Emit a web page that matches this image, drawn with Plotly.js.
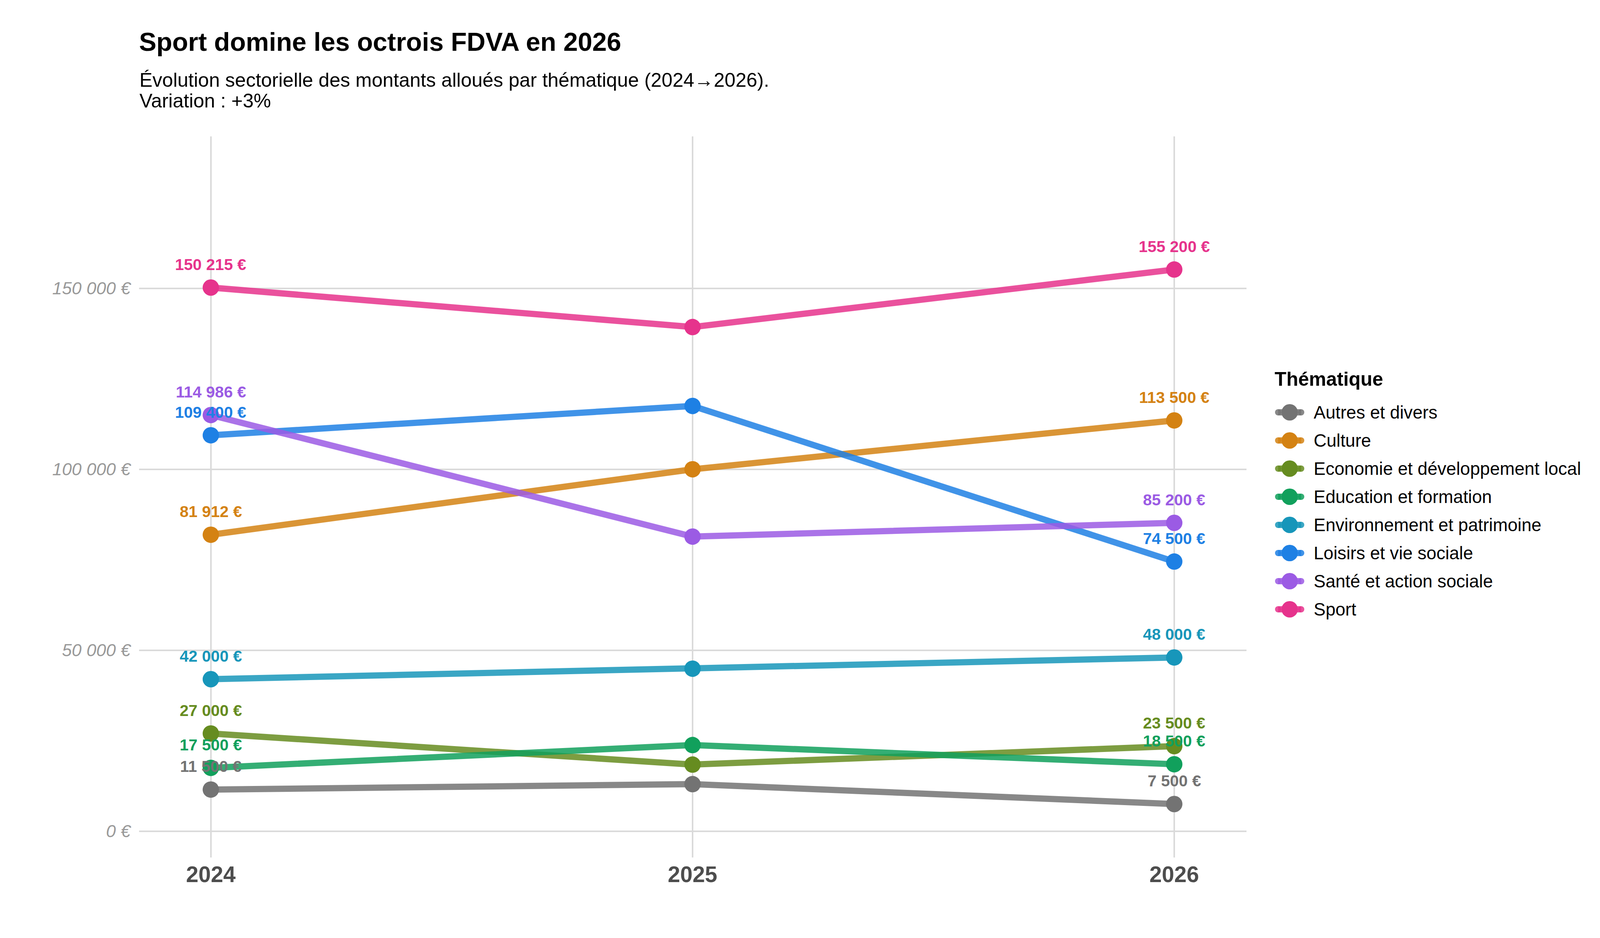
<!DOCTYPE html>
<html>
<head>
<meta charset="utf-8">
<script src="https://cdn.plot.ly/plotly-3.0.1.min.js"></script>
<style>
  html, body { margin: 0; padding: 0; background: #ffffff; overflow: hidden; }
</style>
</head>
<body>
<div id="chart"></div>
<script>
// ---- Data ----
const years = [2024, 2025, 2026];
const categories = [
  "Autres et divers",
  "Culture",
  "Economie et développement local",
  "Education et formation",
  "Environnement et patrimoine",
  "Loisirs et vie sociale",
  "Santé et action sociale",
  "Sport"
];
const autres        = [11500, 13000, 7500];
const culture       = [81912, 100000, 113500];
const economie      = [27000, 18400, 23500];
const education     = [17500, 23800, 18500];
const environnement = [42000, 44900, 48000];
const loisirs       = [109400, 117500, 74500];
const sante         = [114986, 81400, 85200];
const sport         = [150215, 139300, 155200];
const seriesValues = [autres, culture, economie, education, environnement, loisirs, sante, sport];
const markerColors = ["#737373", "#D48213", "#668C20", "#11A05C", "#1796BA", "#1E80E4", "#9B5BE4", "#E6338C"];
const yTickVals = [0, 50000, 100000, 150000];

const title = "Sport domine les octrois FDVA en 2026";
const subtitleLines = ["Évolution sectorielle des montants alloués par thématique (2024→2026).", "Variation : +3%"];
const legendTitle = "Thématique";

// ---- Helpers ----
function fmt(v) {
  return String(Math.round(v)).replace(/\B(?=(\d{3})+(?!\d))/g, " ") + " €";
}
function hexToRgba(hex, a) {
  const n = parseInt(hex.slice(1), 16);
  return "rgba(" + ((n >> 16) & 255) + "," + ((n >> 8) & 255) + "," + (n & 255) + "," + a + ")";
}

const FONT = "Liberation Sans, Arial, Helvetica, sans-serif";
const W = 4200, H = 2400;
const M = { l: 356, r: 1009, t: 349, b: 206 };
const PW = W - M.l - M.r, PH = H - M.t - M.b;
const px2x = px => (px - M.l) / PW;
const px2y = py => (H - M.b - py) / PH;

// ---- Traces ----
const traces = categories.map((name, i) => ({
  type: "scatter",
  mode: "lines+markers",
  name: name,
  x: years,
  y: seriesValues[i],
  line: { color: hexToRgba(markerColors[i], 0.85), width: 16 },
  marker: { color: markerColors[i], size: 42 },
  showlegend: false,
  hoverinfo: "x+y+name"
}));

// ---- Value labels (first and last year) ----
const annotations = [];
categories.forEach((name, i) => {
  [0, years.length - 1].forEach(j => {
    annotations.push({
      x: years[j], y: seriesValues[i][j], xref: "x", yref: "y",
      text: fmt(seriesValues[i][j]),
      showarrow: false, xanchor: "center", yanchor: "middle", yshift: 59,
      font: { family: FONT, size: 41, color: markerColors[i], weight: "bold" }
    });
  });
});

// Subtitle lines
const subPix = [204.7, 258.3];
subtitleLines.forEach((t, k) => {
  annotations.push({
    xref: "paper", yref: "paper", x: 0, y: px2y(subPix[k]),
    xanchor: "left", yanchor: "middle", showarrow: false, text: t,
    borderpad: 0,
    font: { family: FONT, size: 50, color: "#000000" }
  });
});

// ---- Legend (drawn with shapes + text) ----
const shapes = [];
annotations.push({
  xref: "paper", yref: "paper", x: px2x(3262), y: px2y(970),
  xanchor: "left", yanchor: "middle", showarrow: false, text: legendTitle, borderpad: 0,
  font: { family: FONT, size: 49.5, color: "#000000", weight: "bold" }
});
const legStartY = 1055, legStep = 72;
const symL = 3264, symR = 3339, symC = 3301.6, rad = 21, textX = 3362;
categories.forEach((name, i) => {
  const cy = legStartY + legStep * i;
  shapes.push({
    type: "line", xref: "paper", yref: "paper",
    x0: px2x(symL + 8), x1: px2x(symR - 8), y0: px2y(cy), y1: px2y(cy),
    line: { color: hexToRgba(markerColors[i], 0.85), width: 16 }
  });
  // rounded caps
  [symL + 8, symR - 8].forEach(cx => {
    shapes.push({
      type: "circle", xref: "paper", yref: "paper",
      x0: px2x(cx - 8), x1: px2x(cx + 8), y0: px2y(cy + 8), y1: px2y(cy - 8),
      fillcolor: hexToRgba(markerColors[i], 0.85), line: { width: 0 }
    });
  });
  shapes.push({
    type: "circle", xref: "paper", yref: "paper",
    x0: px2x(symC - rad), x1: px2x(symC + rad), y0: px2y(cy + rad), y1: px2y(cy - rad),
    fillcolor: markerColors[i], line: { width: 0 }
  });
  annotations.push({
    xref: "paper", yref: "paper", x: px2x(textX), y: px2y(cy),
    xanchor: "left", yanchor: "middle", showarrow: false, text: name, borderpad: 0,
    font: { family: FONT, size: 45.6, color: "#000000" }
  });
});

const layout = {
  width: W, height: H,
  paper_bgcolor: "#ffffff", plot_bgcolor: "#ffffff",
  margin: { l: M.l, r: M.r, t: M.t, b: M.b, autoexpand: false },
  title: {
    text: title, xref: "container", yref: "container",
    x: 356 / W, xanchor: "left", y: 1 - 106.5 / H, yanchor: "middle",
    font: { family: FONT, size: 66.5, color: "#000000", weight: "bold" }
  },
  xaxis: {
    range: [2023.851, 2026.150],
    tickvals: years, ticktext: years.map(String),
    showgrid: true, gridcolor: "#DADADA", gridwidth: 4,
    zeroline: false, showline: false, ticks: "",
    ticklabelstandoff: 5,
    tickfont: { family: FONT, size: 57, color: "#4D4D4D", weight: "bold" }
  },
  yaxis: {
    range: [-7270, 191980],
    tickvals: yTickVals, ticktext: yTickVals.map(fmt),
    showgrid: true, gridcolor: "#DADADA", gridwidth: 4,
    zeroline: false, showline: false, ticks: "",
    ticklabelstandoff: 21,
    tickfont: { family: FONT, size: 45, color: "#999999", style: "italic" }
  },
  showlegend: false,
  shapes: shapes,
  annotations: annotations
};

Plotly.newPlot("chart", traces, layout, { displayModeBar: false, staticPlot: true });
</script>
</body>
</html>
